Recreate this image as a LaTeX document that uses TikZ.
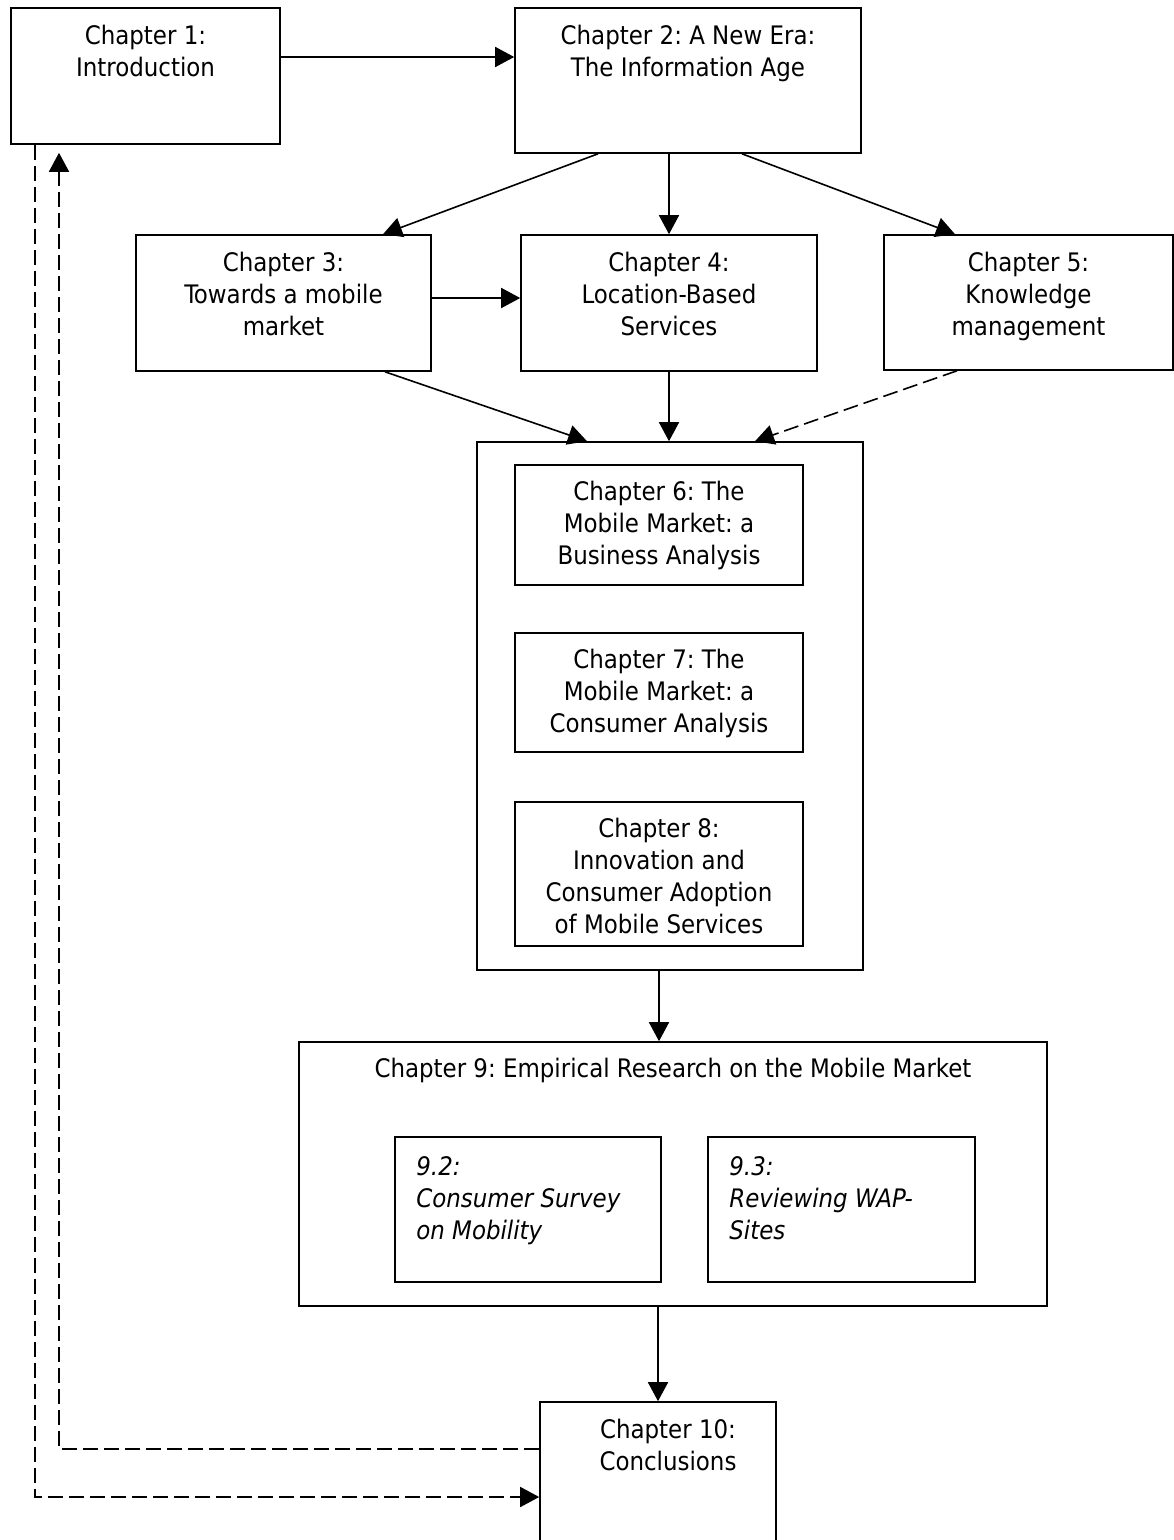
\documentclass[tikz,border=0pt]{standalone}
\usepackage{fontspec}
\setmainfont{DejaVu Sans Condensed}[ItalicFont={DejaVu Sans Condensed Oblique}]
\usepackage{tikz}
\usetikzlibrary{arrows.meta,positioning}
\frenchspacing

\begin{document}
\begin{tikzpicture}[x=1pt,y=-1pt,
  box/.style={draw,line width=1.6pt,inner sep=0pt},
  txt/.style={align=center,inner sep=0pt,font=\fontsize{25.5}{32}\selectfont},
  subtxt/.style={align=left,inner sep=0pt,font=\fontsize{25.5}{32}\selectfont\itshape},
  arr/.style={line width=1.6pt,-{Triangle[length=19pt,width=20pt]}},
  dashline/.style={dash pattern=on 15pt off 6pt}]
\useasboundingbox (0,0) rectangle (1174,1540);
% boxes
\node [box,minimum width=269pt,minimum height=136pt] (ch1) at (145.5,76) {};
\node [box,minimum width=346pt,minimum height=145pt] (ch2) at (688,80.5) {};
\node [box,minimum width=295pt,minimum height=136pt] (ch3) at (283.5,303) {};
\node [box,minimum width=296pt,minimum height=136pt] (ch4) at (669,303) {};
\node [box,minimum width=289pt,minimum height=135pt] (ch5) at (1028.5,302.5) {};
\node [box,minimum width=386pt,minimum height=528pt] (outer) at (670,706) {};
\node [box,minimum width=288pt,minimum height=120pt] (ch6) at (659,525) {};
\node [box,minimum width=288pt,minimum height=119pt] (ch7) at (659,692.5) {};
\node [box,minimum width=288pt,minimum height=144pt] (ch8) at (659,874) {};
\node [box,minimum width=748pt,minimum height=264pt] (ch9) at (673,1174) {};
\node [box,minimum width=266pt,minimum height=145pt] (s92) at (528,1209.5) {};
\node [box,minimum width=267pt,minimum height=145pt] (s93) at (841.5,1209.5) {};
\node [box,minimum width=236pt,minimum height=146pt] (ch10) at (658,1475) {};
% texts
\node [txt,below=18pt of ch1.north] (t1) {Chapter 1:\\Introduction};
\node [txt,below=18pt of ch2.north] (t2) {Chapter 2: A New Era:\\The Information Age};
\node [txt,below=18pt of ch3.north] (t3) {Chapter 3:\\Towards a mobile\\market};
\node [txt,below=18pt of ch4.north] (t4) {Chapter 4:\\Location-Based\\Services};
\node [txt,below=18pt of ch5.north] (t5) {Chapter 5:\\Knowledge\\management};
\node [txt,below=17pt of ch6.north] (t6) {Chapter 6: The\\Mobile Market: a\\Business Analysis};
\node [txt,below=17pt of ch7.north] (t7) {Chapter 7: The\\Mobile Market: a\\Consumer Analysis};
\node [txt,below=17pt of ch8.north] (t8) {Chapter 8:\\Innovation and\\Consumer Adoption\\of Mobile Services};
\node [txt,below=17pt of ch9.north] (t9) {Chapter 9: Empirical Research on the Mobile Market};
\node [subtxt,anchor=north west] (t92) at ([xshift=22pt,yshift=-20pt]s92.north west) {9.2:\\Consumer Survey\\on Mobility};
\node [subtxt,anchor=north west] (t93) at ([xshift=22pt,yshift=-20pt]s93.north west) {9.3:\\Reviewing WAP-\\Sites};
\node [txt,below=18pt of ch10.north,xshift=10pt] (t10) {Chapter 10:\\Conclusions};
% arrows
\draw [arr] ([yshift=19pt]ch1.east) -- ([yshift=23.5pt]ch2.west);
\draw [arr] ([xshift=-90pt]ch2.south) -- ([xshift=99.5pt]ch3.north);
\draw [arr] (ch4.north |- ch2.south) -- (ch4.north);
\draw [arr] ([xshift=54pt]ch2.south) -- ([xshift=-73.5pt]ch5.north);
\draw [arr] ([yshift=5pt]ch3.east) -- ([yshift=5pt]ch4.west);
\draw [arr] ([xshift=101.5pt]ch3.south) -- ([xshift=-83pt]outer.north);
\draw [arr] (ch4.south) -- (ch4.south |- outer.north);
\draw [arr,dashline] ([xshift=-71.5pt]ch5.south) -- ([xshift=85pt]outer.north);
\draw [arr] (ch6.south |- outer.south) -- (ch6.south |- ch9.north);
\draw [arr] (ch10.north |- ch9.south) -- (ch10.north);
\draw [arr,dashline,shorten >=8pt] ([yshift=26pt]ch10.west) -| ([xshift=-86.5pt]ch1.south);
\draw [arr,dashline] ([xshift=-110.5pt]ch1.south) |- ([yshift=-22pt]ch10.west);
\end{tikzpicture}
\end{document}
